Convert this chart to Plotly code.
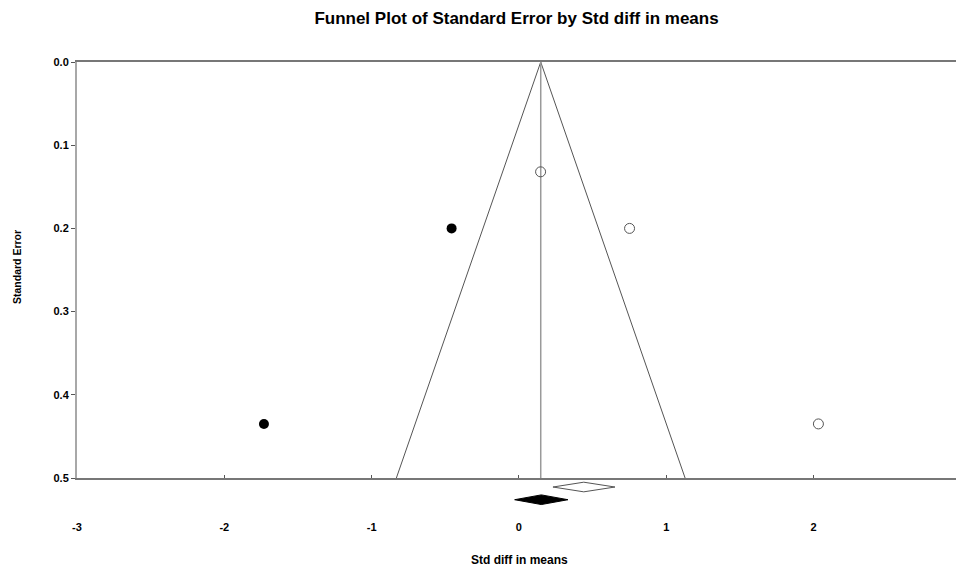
import plotly.graph_objects as go

# Observed studies
obs_effect = [0.147, 0.751, 2.033]
obs_se = [0.132, 0.200, 0.435]
# Imputed studies (trim and fill)
imp_effect = [-0.457, -1.731]
imp_se = [0.200, 0.435]

# Summary estimates: observed and adjusted
sum_labels = ["Observed", "Adjusted"]
sum_est = [0.440, 0.152]
sum_lower = [0.231, -0.029]
sum_upper = [0.652, 0.333]
sum_row = [0, 1]

funnel_center = 0.148
se_max = 0.5
z = 1.96

x_ticks = [-3, -2, -1, 0, 1, 2]
y_ticks = [0.0, 0.1, 0.2, 0.3, 0.4, 0.5]

FONT = "Arial, Liberation Sans, sans-serif"
W, H = 956, 566
ML, MR, MT, MB = 77, 0, 62, 40
plot_h = H - MT - MB
axis_bottom_px = 478
dom_split = (H - MB - axis_bottom_px) / plot_h

fig = go.Figure()

# funnel
fig.add_trace(go.Scatter(
    x=[funnel_center - z * se_max, funnel_center, funnel_center + z * se_max],
    y=[se_max, 0, se_max], mode="lines",
    line=dict(color="#555555", width=1), hoverinfo="skip", showlegend=False))
fig.add_trace(go.Scatter(
    x=[funnel_center, funnel_center], y=[0, se_max], mode="lines",
    line=dict(color="#9a9a9a", width=1.5), hoverinfo="skip", showlegend=False))

fig.add_trace(go.Scatter(
    x=obs_effect, y=obs_se, mode="markers", name="Observed",
    marker=dict(symbol="circle-open", size=10, color="#555555", line=dict(width=1)),
    showlegend=False))
fig.add_trace(go.Scatter(
    x=imp_effect, y=imp_se, mode="markers", name="Imputed",
    marker=dict(symbol="circle", size=10, color="black"),
    showlegend=False))

# summary diamonds in a strip below
hh = 0.38
for i in range(len(sum_est)):
    filled = sum_labels[i] == "Adjusted"
    r = sum_row[i]
    fig.add_trace(go.Scatter(
        x=[sum_lower[i], sum_est[i], sum_upper[i], sum_est[i], sum_lower[i]],
        y=[r, r - hh, r, r + hh, r],
        mode="lines", fill="toself",
        fillcolor="black" if filled else "white",
        line=dict(color="black" if filled else "#555555", width=1),
        xaxis="x2", yaxis="y2", name=sum_labels[i], showlegend=False))

fig.update_layout(
    width=W, height=H,
    margin=dict(l=ML, r=MR, t=MT, b=MB),
    paper_bgcolor="white", plot_bgcolor="white",
    font=dict(family=FONT, size=11, color="black"),
    title=dict(text="<b>Funnel Plot of Standard Error by Std diff in means</b>",
               x=0.5, xref="paper", y=1 - 18 / H, yref="container",
               yanchor="middle", xanchor="center",
               font=dict(size=17, family=FONT, color="black")),
    xaxis=dict(range=[-3, 2.967], tickvals=x_ticks, ticktext=[str(v) for v in x_ticks],
               ticks="inside", ticklen=3, tickcolor="#555555",
               showline=True, linecolor="#777777", linewidth=1.5, mirror=True,
               showgrid=False, zeroline=False, anchor="y",
               tickfont=dict(size=11, family=FONT, color="black", weight="bold"),
               ticklabelstandoff=38),
    yaxis=dict(range=[se_max, 0], tickvals=y_ticks, tickformat=".1f",
               domain=[dom_split, 1],
               ticks="outside", ticklen=4, tickcolor="#555555",
               showline=True, linecolor="#a8a8a8", linewidth=2,
               showgrid=False, zeroline=False,
               tickfont=dict(size=11, family=FONT, color="black", weight="bold")),
    xaxis2=dict(matches="x", anchor="y2", visible=False),
    yaxis2=dict(domain=[0, dom_split], range=[3.07, -0.71], visible=False, anchor="x2"),
    annotations=[
        dict(text="<b>Std diff in means</b>", xref="paper", yref="paper",
             x=(519 - ML) / (W - ML - MR), y=-(560 - (H - MB)) / plot_h,
             showarrow=False, xanchor="center", yanchor="middle",
             font=dict(size=12, family=FONT, color="black")),
        dict(text="<b>Standard Error</b>", xref="paper", yref="paper",
             x=-(ML - 17) / (W - ML - MR), y=1 - (267 - MT) / plot_h,
             showarrow=False, xanchor="center", yanchor="middle", textangle=-90,
             font=dict(size=10.5, family=FONT, color="black")),
    ],
)

fig.write_html("out.html", config={"displayModeBar": False},
               post_script="document.body.style.margin='0';document.body.style.overflow='hidden';")
